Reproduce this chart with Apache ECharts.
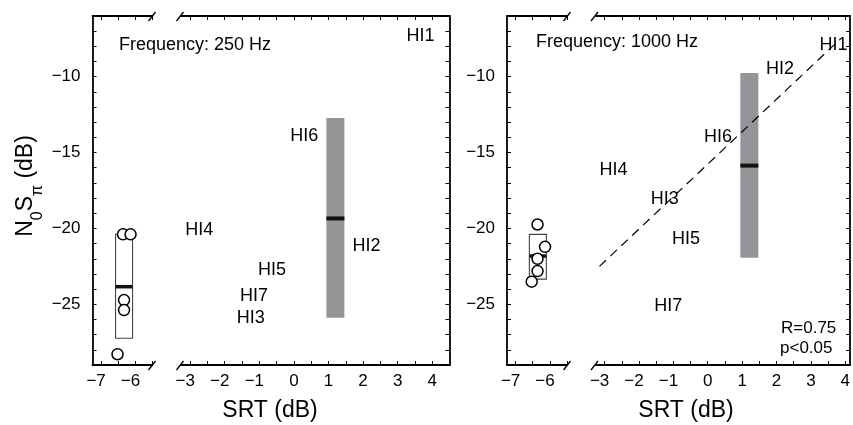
<!DOCTYPE html>
<html><head><meta charset="utf-8">
<script src="https://cdn.jsdelivr.net/npm/echarts@6/dist/echarts.min.js"></script>
<style>html,body{margin:0;padding:0;background:#fff}#c{width:853px;height:425px}</style>
</head><body><div id="c"></div>
<script>
// ---------------- data ----------------
const hiNames = ['HI1', 'HI2', 'HI3', 'HI4', 'HI5', 'HI6', 'HI7'];
const hiSRT = [3.66, 2.1, -1.25, -2.74, -0.63, 0.3, -1.15];
const hi250 = [-7.35, -21.14, -25.92, -20.11, -22.74, -13.93, -24.43];
const hi1000 = [-7.89, -9.47, -18.03, -16.16, -20.7, -13.97, -25.09];

const nhSRT250 = [-6.36, -6.14, -6.33, -6.33, -6.52];
const nh250 = [-20.39, -20.39, -24.72, -25.38, -28.29];
const nhSRT1000 = [-6.36, -6.14, -6.36, -6.36, -6.53];
const nh1000 = [-19.74, -21.21, -22.0, -22.81, -23.51];

// [SRT, low, median, high]
const nhBox250 = [-6.33, -27.24, -23.84, -20.39];
const nhBox1000 = [-6.35, -23.34, -21.82, -20.39];
const hiBar250 = [1.2, -25.88, -19.34, -12.72];
const hiBar1000 = [1.21, -21.93, -15.86, -9.76];

const regSRT = [-3.15, 3.7];
const regVal = [-22.5, -7.85];

const yRange = [-29, -6];
const xRangeLeft = [-7.25, -5.5];
const xRangeRight250 = [-3.25, 4.5];
const xRangeRight1000 = [-3.25, 4.14];
const yTickLabels = [-25, -20, -15, -10];
const xTicksLeft = [-7, -6.5, -6, -5.5];
const xLabelsLeft = [-7, -6];
const xTicksRight = [-3, -2.5, -2, -1.5, -1, -0.5, 0, 0.5, 1, 1.5, 2, 2.5, 3, 3.5, 4];
const xLabelsRight = [-3, -2, -1, 0, 1, 2, 3, 4];

// ---------------- chart ----------------
const FONT = 'Liberation Sans, Arial, Helvetica, sans-serif';
const chart = echarts.init(document.getElementById('c'), null, {renderer: 'canvas'});
const TOP = 16, H = 349;
const grids = [
  {left: 92.5, top: TOP, width: 60, height: H},
  {left: 181.5, top: TOP, width: 268, height: H},
  {left: 507, top: TOP, width: 60, height: H},
  {left: 596, top: TOP, width: 255, height: H}
];
const lineStyle = {color: '#000', width: 1.8};
function fmtX(v) {
  if (v < 0) return '\u2212' + Math.abs(v) + '{h|\u2212}';
  return String(v);
}
function xAx(g, range, ticks, labels, pos) {
  return {
    type: 'value', gridIndex: g, position: pos, min: range[0], max: range[1],
    axisLine: {show: true, onZero: false, lineStyle: lineStyle},
    axisTick: {show: true, inside: true, length: 4, customValues: ticks, lineStyle: {color: '#000', width: 1}},
    axisLabel: {show: pos === 'bottom', customValues: labels, formatter: fmtX, fontSize: 17, color: '#000',
      fontFamily: FONT, margin: 8, rich: {h: {color: 'rgba(0,0,0,0)', fontSize: 17, fontFamily: FONT}}},
    splitLine: {show: false}
  };
}
function yAx(g, pos, showLabel) {
  return {
    type: 'value', gridIndex: g, position: pos, min: yRange[0], max: yRange[1], interval: 1,
    axisLine: {show: true, onZero: false, lineStyle: lineStyle},
    axisTick: {show: true, inside: true, length: 4, lineStyle: {color: '#000', width: 1}},
    axisLabel: {show: showLabel, customValues: yTickLabels, formatter: v => String(v).replace('-', '\u2212'),
      fontSize: 17, color: '#000', fontFamily: FONT, margin: 12},
    splitLine: {show: false}
  };
}
const xAxes = [
  xAx(0, xRangeLeft, xTicksLeft, xLabelsLeft, 'bottom'), xAx(0, xRangeLeft, xTicksLeft, xLabelsLeft, 'top'),
  xAx(1, xRangeRight250, xTicksRight, xLabelsRight, 'bottom'), xAx(1, xRangeRight250, xTicksRight, xLabelsRight, 'top'),
  xAx(2, xRangeLeft, xTicksLeft, xLabelsLeft, 'bottom'), xAx(2, xRangeLeft, xTicksLeft, xLabelsLeft, 'top'),
  xAx(3, xRangeRight1000, xTicksRight, xLabelsRight, 'bottom'), xAx(3, xRangeRight1000, xTicksRight, xLabelsRight, 'top')
];
const yAxes = [yAx(0, 'left', true), yAx(1, 'right', false), yAx(2, 'left', true), yAx(3, 'right', false)];

function boxRenderer(halfW, fill, stroke, medH) {
  return function (params, api) {
    const x = api.value(0), lo = api.value(1), med = api.value(2), hi = api.value(3);
    const pLo = api.coord([x, lo]), pHi = api.coord([x, hi]), pMed = api.coord([x, med]);
    return {type: 'group', children: [
      {type: 'rect', shape: {x: pLo[0] - halfW, y: pHi[1], width: 2 * halfW, height: pLo[1] - pHi[1]},
        style: {fill: fill, stroke: stroke, lineWidth: stroke ? 1.1 : 0}},
      {type: 'rect', shape: {x: pMed[0] - halfW, y: pMed[1] - medH / 2, width: 2 * halfW, height: medH},
        style: {fill: '#111'}}
    ]};
  };
}
function circles(g, xs, ys) {
  return {type: 'scatter', xAxisIndex: 2 * g, yAxisIndex: g, symbol: 'circle', symbolSize: 11, silent: true,
    itemStyle: {color: '#fff', borderColor: '#000', borderWidth: 1.5, opacity: 1},
    data: xs.map((x, i) => [x, ys[i]]), z: 5};
}
function hiLabels(g, vals) {
  return {type: 'scatter', xAxisIndex: 2 * g, yAxisIndex: g, symbolSize: 0, silent: true,
    itemStyle: {opacity: 1},
    label: {show: true, position: 'inside', formatter: '{b}', fontSize: 18, color: '#000', opacity: 1,
      fontFamily: FONT, textBorderWidth: 0},
    data: hiSRT.map((x, i) => ({name: hiNames[i], value: [x, vals[i]]})), z: 4};
}
const series = [
  {type: 'custom', xAxisIndex: 0, yAxisIndex: 0, renderItem: boxRenderer(8.5, '#fff', '#444', 3.5),
    data: [nhBox250], encode: {x: 0, y: [1, 2, 3]}, silent: true, z: 2},
  circles(0, nhSRT250, nh250),
  {type: 'custom', xAxisIndex: 2, yAxisIndex: 1, renderItem: boxRenderer(9, '#939598', null, 4),
    data: [hiBar250], encode: {x: 0, y: [1, 2, 3]}, silent: true, z: 2},
  hiLabels(1, hi250),
  {type: 'custom', xAxisIndex: 4, yAxisIndex: 2, renderItem: boxRenderer(8.5, '#fff', '#444', 3.5),
    data: [nhBox1000], encode: {x: 0, y: [1, 2, 3]}, silent: true, z: 2},
  circles(2, nhSRT1000, nh1000),
  {type: 'custom', xAxisIndex: 6, yAxisIndex: 3, renderItem: boxRenderer(9, '#939598', null, 4),
    data: [hiBar1000], encode: {x: 0, y: [1, 2, 3]}, silent: true, z: 2},
  hiLabels(3, hi1000),
  {type: 'line', xAxisIndex: 6, yAxisIndex: 3, symbol: 'none', silent: true, z: 6,
    lineStyle: {color: '#000', width: 1.2, type: [9, 6]},
    data: regSRT.map((x, i) => [x, regVal[i]])}
];

// break marks
function slash(cx, cy) {
  return {type: 'line', shape: {x1: cx - 3.5, y1: cy + 4.5, x2: cx + 3.5, y2: cy - 4.5},
    style: {stroke: '#000', lineWidth: 1.3}, silent: true};
}
const graphics = [];
[[152, 180], [567, 594.5]].forEach(([a, b]) => {
  [TOP, TOP + H].forEach(y => { graphics.push(slash(a, y + 0.5)); graphics.push(slash(b, y + 0.5)); });
});
function txt(x, y, text, size, align) {
  return {type: 'text', x: x, y: y, silent: true,
    style: {text: text, fontSize: size, fontFamily: FONT, fill: '#000', align: align || 'left', verticalAlign: 'middle'}};
}
graphics.push(txt(119, 45, 'Frequency: 250 Hz', 18));
graphics.push(txt(536, 42, 'Frequency: 1000 Hz', 18));
graphics.push(txt(270, 411, 'SRT (dB)', 23, 'center'));
graphics.push(txt(686, 411, 'SRT (dB)', 23, 'center'));
graphics.push(txt(781, 328, 'R=0.75', 17));
graphics.push(txt(780, 348, 'p<0.05', 17));
graphics.push({type: 'text', x: 26, y: 186, rotation: Math.PI / 2, silent: true,
  style: {text: 'N{s|0}S{s|\u03c0} (dB)', fontSize: 23, fontFamily: FONT, fill: '#000',
    align: 'center', verticalAlign: 'middle',
    rich: {s: {fontSize: 16, fontFamily: FONT, fill: '#000', verticalAlign: 'bottom', lineHeight: 40}}}});

chart.setOption({
  backgroundColor: '#fff',
  animation: false,
  grid: grids,
  xAxis: xAxes,
  yAxis: yAxes,
  series: series,
  graphic: graphics
});
</script></body></html>
